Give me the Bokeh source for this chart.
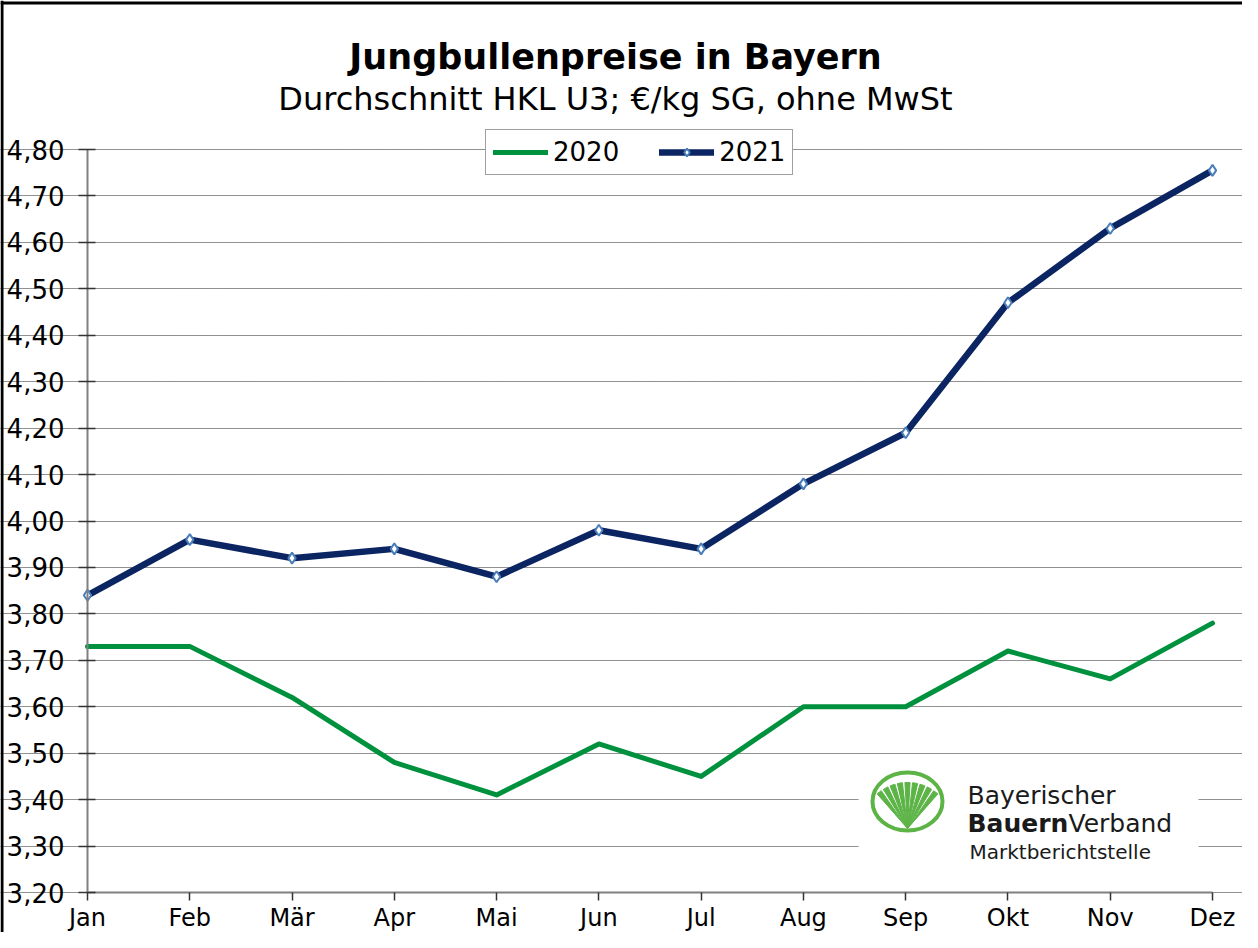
import numpy as np
from bokeh.plotting import figure
from bokeh.models import (Range1d, FixedTicker, CustomJSTickFormatter, Legend, LegendItem,
                          Label, BoxAnnotation, Span, ColumnDataSource)
from bokeh.embed import file_html
from bokeh.resources import INLINE

# ---------------- data ----------------
months = ["Jan", "Feb", "Mär", "Apr", "Mai", "Jun", "Jul", "Aug", "Sep", "Okt", "Nov", "Dez"]
prices_2020 = [3.73, 3.73, 3.62, 3.48, 3.41, 3.52, 3.45, 3.60, 3.60, 3.72, 3.66, 3.78]
prices_2021 = [3.84, 3.96, 3.92, 3.94, 3.88, 3.98, 3.94, 4.08, 4.19, 4.47, 4.63, 4.755]
y_ticks = [3.2, 3.3, 3.4, 3.5, 3.6, 3.7, 3.8, 3.9, 4.0, 4.1, 4.2, 4.3, 4.4, 4.5, 4.6, 4.7, 4.8]
series_labels = ["2020", "2021"]
title_text = "Jungbullenpreise in Bayern"
subtitle_text = "Durchschnitt HKL U3; €/kg SG, ohne MwSt"
logo_lines = ["Bayerischer", "Bauern", "Verband", "Marktberichtstelle"]

FONT = "DejaVu Sans"
GREEN = "#00913e"
NAVY = "#0b2462"
LOGO_GREEN = "#5cb446"

W, H = 1242, 932           # canvas; page origin at (8, 8)
X0_PX, X11_PX = 95.0, 1220.0   # page pixels of Jan / Dez
Y_TOP_PX, Y_BOT_PX = 157.0, 900.0  # page pixels of 4.80 / 3.20
sx = (X11_PX - X0_PX) / (len(months) - 1)
sy = (Y_BOT_PX - Y_TOP_PX) / (y_ticks[-1] - y_ticks[0])

def dx(px):
    return (px - X0_PX) / sx

def dy(py):
    return y_ticks[-1] - (py - Y_TOP_PX) / sy

idx = list(range(len(months)))
src = ColumnDataSource(dict(m=idx, p2020=prices_2020, p2021=prices_2021))

# the frame covers the whole canvas so that nothing gets clipped
p = figure(width=W, height=H, title=None,
           x_range=Range1d(dx(8), dx(8 + W)),
           y_range=Range1d(dy(8 + H), dy(8)),
           output_backend="svg", toolbar_location=None,
           min_border_left=0, min_border_right=0, min_border_top=0, min_border_bottom=0)
p.outline_line_color = None
p.background_fill_color = "white"
p.border_fill_color = "white"

# chart frame lines (left and top)
p.add_layout(Span(location=dx(9.5), dimension="height", line_color="black", line_width=3))
p.add_layout(Span(location=dy(10.5), dimension="width", line_color="black", line_width=3))

# grid
p.xgrid.visible = False
p.ygrid.grid_line_color = "#222222"
p.ygrid.grid_line_dash = "1 1"
p.ygrid.grid_line_width = 1
p.ygrid.bounds = (0, len(months) - 1)

# logo background box (covers the grid)
p.add_layout(BoxAnnotation(left=dx(866), right=dx(1206), bottom=dy(870), top=dy(773),
                           fill_color="white", fill_alpha=1, line_color=None, level="underlay"))

# axes (fixed inside the full-canvas frame)
xa = p.xaxis[0]
xa.fixed_location = y_ticks[0]
xa.ticker = FixedTicker(ticks=idx)
xa.major_label_overrides = {i: m for i, m in zip(idx, months)}
xa.bounds = (0, len(months) - 1)
xa.axis_line_color = "#808080"
xa.axis_line_width = 2
xa.major_tick_line_color = "#333333"
xa.major_tick_line_width = 1.5
xa.major_tick_in = 0
xa.major_tick_out = 8
xa.minor_tick_line_color = None
xa.major_label_text_font = FONT
xa.major_label_text_font_size = "24px"
xa.major_label_text_color = "black"
xa.major_label_standoff = 3

ya = p.yaxis[0]
ya.fixed_location = 0
ya.ticker = FixedTicker(ticks=y_ticks)
ya.formatter = CustomJSTickFormatter(code="return tick.toFixed(2).replace('.', ',');")
ya.bounds = (y_ticks[0], y_ticks[-1])
ya.axis_line_color = "#808080"
ya.axis_line_width = 2
ya.major_tick_line_color = "#333333"
ya.major_tick_line_width = 1.5
ya.major_tick_in = 8
ya.major_tick_out = 9
ya.minor_tick_line_color = None
ya.major_label_text_font = FONT
ya.major_label_text_font_size = "26px"
ya.major_label_text_color = "black"
ya.major_label_standoff = 14

# series
l20 = p.line("m", "p2020", source=src, line_color=GREEN, line_width=5,
             line_join="round", line_cap="round")
l21 = p.line("m", "p2021", source=src, line_color=NAVY, line_width=6.5,
             line_join="round", line_cap="round")
s21 = p.scatter("m", "p2021", source=src, marker="diamond", size=11,
                fill_color="white", line_color="#4a7ebb", line_width=2)

legend = Legend(items=[LegendItem(label=series_labels[0], renderers=[l20]),
                       LegendItem(label=series_labels[1], renderers=[l21, s21])],
                orientation="horizontal", location=(493 - 8, (8 + H) - 183),
                label_text_font=FONT, label_text_font_size="26px", label_text_color="black",
                glyph_width=55, glyph_height=20, label_standoff=5, spacing=40,
                padding=7, margin=0, border_line_color="#404040", border_line_width=1.5,
                background_fill_color="white", background_fill_alpha=1)
p.add_layout(legend)

# titles
p.add_layout(Label(x=dx(623), y=dy(64), text=title_text, text_align="center",
                   text_baseline="alphabetic", text_font=FONT, text_font_size="35px",
                   text_font_style="bold", text_color="black"))
p.add_layout(Label(x=dx(623), y=dy(106), text=subtitle_text, text_align="center",
                   text_baseline="alphabetic", text_font=FONT, text_font_size="32px",
                   text_color="black"))

# logo: ring + fan of rays
p.ellipse(x=[dx(915)], y=[dy(809)], width=70, height=58, width_units="screen",
          height_units="screen", fill_color=None, line_color=LOGO_GREEN, line_width=4)
centers = np.deg2rad(90 + 9.5 * np.arange(-4, 5))
half = np.deg2rad(3.2)
p.wedge(x=[dx(915)] * 9, y=[dy(836)] * 9, radius=46, radius_units="screen",
        start_angle=list(centers - half), end_angle=list(centers + half),
        fill_color=LOGO_GREEN, line_color=LOGO_GREEN)

p.add_layout(Label(x=dx(975), y=dy(803), text=logo_lines[0], text_font=FONT,
                   text_font_size="25px", text_baseline="alphabetic", text_color="#1a1a1a"))
p.add_layout(Label(x=dx(975), y=dy(831), text=logo_lines[1], text_font=FONT,
                   text_font_size="25px", text_font_style="bold", text_baseline="alphabetic",
                   text_color="#1a1a1a"))
p.add_layout(Label(x=dx(975), y=dy(831), x_offset=101, text=logo_lines[2], text_font=FONT,
                   text_font_size="25px", text_baseline="alphabetic", text_color="#1a1a1a"))
p.add_layout(Label(x=dx(977), y=dy(859), text=logo_lines[3], text_font=FONT,
                   text_font_size="20px", text_baseline="alphabetic", text_color="#1a1a1a"))

open("out.html", "w").write(file_html(p, INLINE))
